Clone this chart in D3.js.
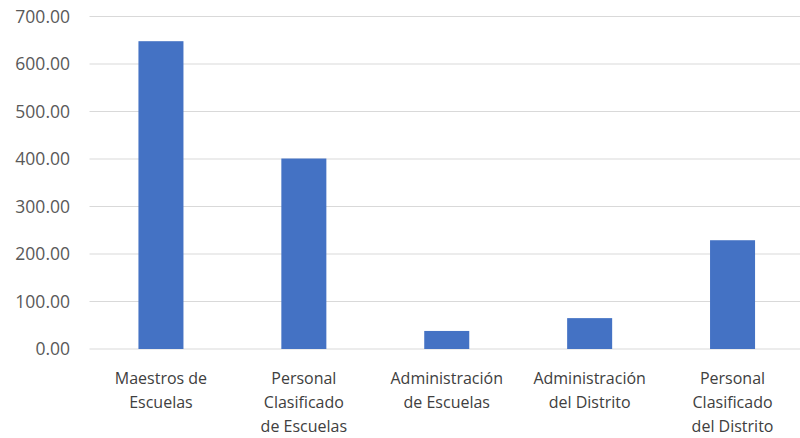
<!DOCTYPE html>
<html><head><meta charset="utf-8">
<script src="https://cdn.jsdelivr.net/npm/d3@7"></script>
<style>body{margin:0;background:#fff}svg{display:block}</style>
</head><body>
<svg id="c" width="800" height="438"></svg>
<script>
const categories = [
  ["Maestros de","Escuelas"],
  ["Personal","Clasificado","de Escuelas"],
  ["Administración","de Escuelas"],
  ["Administración","del Distrito"],
  ["Personal","Clasificado","del Distrito"]
];
const values = [648, 401, 38, 65, 229];
const yTicks = [0,100,200,300,400,500,600,700];

const svg = d3.select("#c");
const x = d3.scaleBand().domain(d3.range(categories.length)).range([89.5, 804]).paddingInner(0.685).paddingOuter(0.3425);
const y = d3.scaleLinear().domain([0,700]).range([349, 16.5]);

svg.append("g").selectAll("line").data(yTicks).join("line")
  .attr("x1", 89.5).attr("x2", 800).attr("y1", d=>y(d)).attr("y2", d=>y(d))
  .attr("stroke", "#d9d9d9").attr("stroke-width", 1.2);

svg.append("g").selectAll("text").data(yTicks).join("text")
  .attr("x", 70).attr("y", d=>y(d)).attr("dy","0.36em").attr("text-anchor","end")
  .attr("font-family","'Open Sans', sans-serif").attr("font-size",17.5).attr("fill","#595959")
  .text(d=>d3.format(".2f")(d));

svg.append("g").selectAll("rect").data(values).join("rect")
  .attr("x",(d,i)=>x(i)).attr("width",x.bandwidth())
  .attr("y",d=>y(d)).attr("height",d=>y(0)-y(d)).attr("fill","#4472C4");

const lab = svg.append("g").selectAll("text").data(categories).join("text")
  .attr("x",(d,i)=>x(i)+x.bandwidth()/2).attr("y",378).attr("text-anchor","middle")
  .attr("font-family","'Open Sans', sans-serif").attr("font-size",16).attr("fill","#404040");
lab.each(function(d){
  const t = d3.select(this);
  d.forEach((s,j)=>t.append("tspan").attr("x",t.attr("x")).attr("y",378+j*24).attr("dy","0.36em").text(s));
});
</script>
</body></html>
